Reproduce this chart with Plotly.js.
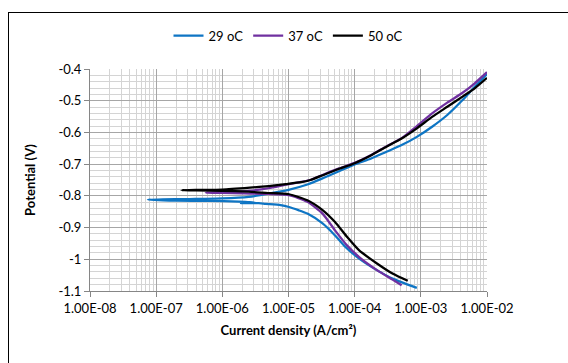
<!DOCTYPE html>
<html>
<head>
<meta charset="utf-8">
<script src="https://cdn.plot.ly/plotly-3.0.1.min.js"></script>
<style>
  html, body { margin: 0; padding: 0; background: #fff; }
  #wrap { position: relative; width: 568px; height: 363px; overflow: hidden; }
  #chart { width: 568px; height: 363px; }
  #frame { position: absolute; left: 8px; top: 12px; width: 700px; height: 500px;
           border: 1px solid #000; pointer-events: none; }
</style>
</head>
<body>
<div id="wrap">
  <div id="chart"></div>
  <div id="frame"></div>
</div>
<script>
// Tick labels
const xTickVals = [1e-8, 1e-7, 1e-6, 1e-5, 1e-4, 1e-3, 1e-2];
const xTickText = ["1.00E-08", "1.00E-07", "1.00E-06", "1.00E-05", "1.00E-04", "1.00E-03", "1.00E-02"];
const yTickVals = [-0.4, -0.5, -0.6, -0.7, -0.8, -0.9, -1.0, -1.1];
const yTickText = ["-0.4", "-0.5", "-0.6", "-0.7", "-0.8", "-0.9", "-1", "-1.1"];

// Series names
const seriesNames = ["29 oC", "37 oC", "50 oC"];

// 29 oC : current density (A/cm2) and potential (V), cathodic end -> Ecorr -> anodic end
const i29 = [8.7e-4, 3.73e-4, 2.20e-4, 1.17e-4, 6.87e-5, 5.01e-5, 3.27e-5, 1.93e-5, 1.41e-5, 1.02e-5,
             7.6e-6, 4.5e-6, 3.55e-6, 1.91e-6, 3.16e-6, 1.78e-6, 6.3e-7, 2.0e-7, 7.5e-8,
             3.2e-7, 1.0e-6, 2.5e-6, 5.0e-6, 1.0e-5, 1.93e-5, 3.27e-5, 5.56e-5, 1.0e-4, 1.78e-4,
             3.02e-4, 5.13e-4, 8.71e-4, 1.48e-3, 2.51e-3, 4.27e-3, 6.52e-3, 1.0e-2];
const v29 = [-1.090, -1.061, -1.035, -0.998, -0.956, -0.924, -0.887, -0.856, -0.845, -0.835,
             -0.829, -0.825, -0.823, -0.823, -0.821, -0.818, -0.816, -0.815, -0.812,
             -0.810, -0.808, -0.803, -0.793, -0.781, -0.764, -0.745, -0.724, -0.701, -0.682,
             -0.661, -0.640, -0.614, -0.582, -0.545, -0.498, -0.456, -0.416];

// 37 oC
const i37 = [5.13e-4, 3.73e-4, 2.20e-4, 1.17e-4, 7.64e-5, 5.01e-5, 3.27e-5, 1.93e-5, 1.02e-5,
             5.0e-6, 2.0e-6, 1.0e-6, 5.6e-7,
             1.0e-6, 2.5e-6, 5.0e-6, 9.1e-6, 1.55e-5, 2.14e-5, 3.27e-5, 5.56e-5, 1.0e-4, 1.78e-4,
             3.02e-4, 5.13e-4, 8.71e-4, 1.48e-3, 2.51e-3, 4.27e-3, 6.52e-3, 1.0e-2];
const v37 = [-1.082, -1.064, -1.035, -0.993, -0.956, -0.908, -0.856, -0.819, -0.798,
             -0.794, -0.792, -0.791, -0.790,
             -0.788, -0.784, -0.776, -0.765, -0.756, -0.750, -0.734, -0.715, -0.696, -0.671,
             -0.644, -0.618, -0.580, -0.540, -0.506, -0.475, -0.445, -0.410];

// 50 oC
const i50 = [6.34e-4, 3.73e-4, 2.20e-4, 1.17e-4, 7.64e-5, 5.01e-5, 3.27e-5, 1.93e-5, 1.02e-5,
             4.9e-6, 2.5e-6, 1.0e-6, 4.0e-7, 2.41e-7,
             4.0e-7, 1.0e-6, 2.61e-6, 5.0e-6, 9.1e-6, 1.55e-5, 2.14e-5, 3.27e-5, 5.56e-5, 1.0e-4,
             1.78e-4, 3.02e-4, 5.13e-4, 8.71e-4, 1.48e-3, 2.51e-3, 4.27e-3, 6.52e-3, 1.0e-2];
const v50 = [-1.068, -1.045, -1.014, -0.972, -0.929, -0.882, -0.845, -0.814, -0.795,
             -0.791, -0.787, -0.784, -0.783, -0.782,
             -0.781, -0.780, -0.774, -0.769, -0.763, -0.757, -0.750, -0.735, -0.716, -0.697,
             -0.672, -0.645, -0.619, -0.587, -0.551, -0.519, -0.487, -0.461, -0.428];

const colors = ["#0E75C4", "#7030A0", "#000000"];
const xs = [i29, i37, i50];
const ys = [v29, v37, v50];

const traces = seriesNames.map((name, k) => ({
  type: "scatter",
  mode: "lines",
  name: name,
  x: xs[k],
  y: ys[k],
  line: { color: colors[k], width: 2.25, shape: "spline", smoothing: 0.6 },
  hoverinfo: "skip"
}));

const font = "Lato, 'Liberation Sans', sans-serif";

const layout = {
  width: 568,
  height: 363,
  margin: { l: 90, r: 81, t: 69, b: 72.3, pad: 0 },
  paper_bgcolor: "#ffffff",
  plot_bgcolor: "#ffffff",
  font: { family: font, size: 13, color: "#000" },
  showlegend: true,
  legend: {
    orientation: "h",
    x: 0.5, xanchor: "center",
    y: 1.15, yanchor: "middle",
    font: { family: font, size: 13, color: "#000" },
    itemwidth: 30,
    bgcolor: "rgba(0,0,0,0)"
  },
  xaxis: {
    type: "log",
    range: [-8, -2],
    tickmode: "array",
    tickvals: xTickVals,
    ticktext: xTickText,
    ticks: "outside",
    ticklen: 5,
    tickcolor: "#868686",
    showline: true,
    linecolor: "#868686",
    linewidth: 1,
    showgrid: true,
    gridcolor: "#a6a6a6",
    gridwidth: 1,
    zeroline: false,
    minor: { dtick: "D1", showgrid: true, gridcolor: "#d4d4d4", gridwidth: 1, ticks: "" },
    tickfont: { family: font, size: 13, color: "#000" },
    title: { text: "<b>Current density (A/cm²)</b>", font: { family: font, size: 13, color: "#000" }, standoff: 11 }
  },
  yaxis: {
    range: [-1.1, -0.4],
    tickmode: "array",
    tickvals: yTickVals,
    ticktext: yTickText,
    ticks: "outside",
    ticklen: 5,
    tickcolor: "#868686",
    showline: true,
    linecolor: "#868686",
    linewidth: 1,
    showgrid: true,
    gridcolor: "#a6a6a6",
    gridwidth: 1,
    zeroline: false,
    minor: { dtick: 0.02, tick0: -1.1, showgrid: true, gridcolor: "#d4d4d4", gridwidth: 1, ticks: "" },
    tickfont: { family: font, size: 13, color: "#000" },
    title: { text: "<b>Potential (V)</b>", font: { family: font, size: 13, color: "#000" }, standoff: 19 }
  }
};

Plotly.newPlot("chart", traces, layout, { staticPlot: true, displayModeBar: false });
</script>
</body>
</html>
